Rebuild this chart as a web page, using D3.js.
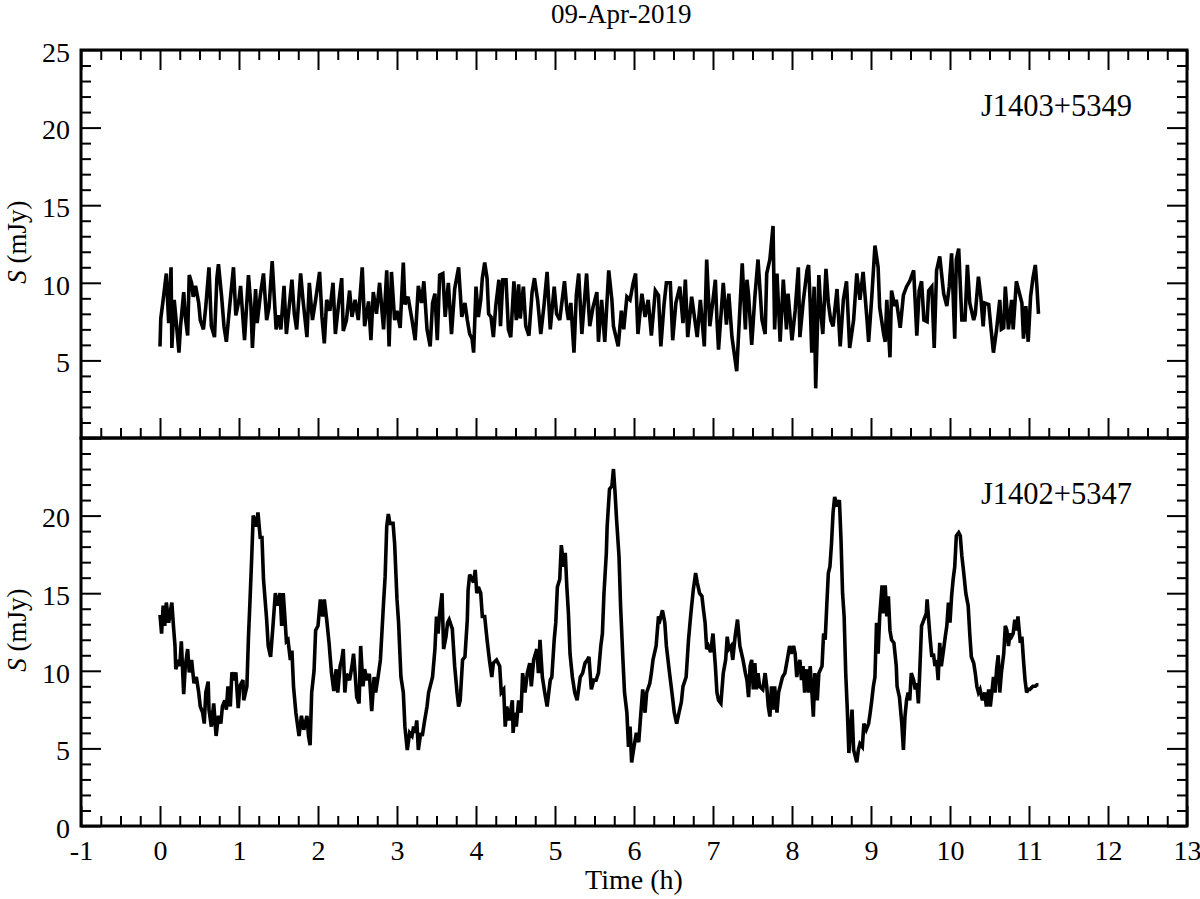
<!DOCTYPE html>
<html><head><meta charset="utf-8">
<script src="https://cdn.jsdelivr.net/npm/d3@7"></script>
<style>
body{margin:0;background:#fff}
svg{display:block}
text{font-family:"Liberation Serif","Times New Roman",serif;fill:#000}
</style>
</head><body>
<svg id="chart" width="1200" height="899"></svg>
<script>
// ---------------- data ----------------
const chartTitle = "09-Apr-2019";
const sourceNames = ["J1403+5349", "J1402+5347"];
const xLabel = "Time (h)";
const xTicks = [-1,0,1,2,3,4,5,6,7,8,9,10,11,12,13];
const topYTicks = [5,10,15,20,25];
const bottomYTicks = [0,5,10,15,20];

// [time (h), flux density (mJy)] — J1403+5349
const topSeries = [
[0.00,5.9],[0.01,7.7],[0.04,8.9],[0.08,10.6],[0.11,7.4],[0.14,11.0],[0.15,5.8],[0.18,8.9],[0.20,7.8],[0.24,5.5],
[0.26,7.2],[0.30,9.4],[0.32,7.8],[0.35,6.6],[0.37,10.5],[0.40,10.0],[0.42,9.1],[0.45,9.8],[0.49,8.7],[0.51,7.6],
[0.55,7.0],[0.58,8.5],[0.62,11.0],[0.65,7.2],[0.69,6.5],[0.72,10.3],[0.74,11.2],[0.78,9.1],[0.81,7.2],[0.84,6.2],
[0.88,8.4],[0.93,11.0],[0.96,7.9],[1.00,8.9],[1.02,9.8],[1.07,6.3],[1.12,10.5],[1.15,8.6],[1.17,5.8],[1.21,9.6],
[1.23,7.4],[1.27,9.2],[1.31,10.6],[1.35,7.6],[1.38,8.4],[1.42,11.4],[1.47,7.0],[1.50,7.9],[1.53,7.0],[1.57,9.8],
[1.60,6.7],[1.64,8.7],[1.67,10.2],[1.70,8.0],[1.73,7.0],[1.78,10.6],[1.81,8.9],[1.86,6.5],[1.89,10.0],[1.93,7.6],
[1.97,8.9],[2.02,10.7],[2.05,7.8],[2.08,6.1],[2.11,8.9],[2.15,8.2],[2.19,10.0],[2.22,6.7],[2.26,8.6],[2.30,10.3],
[2.32,6.9],[2.36,7.6],[2.40,9.5],[2.43,7.8],[2.47,8.9],[2.51,7.6],[2.56,11.0],[2.59,7.2],[2.64,8.8],[2.67,6.3],
[2.70,9.4],[2.74,8.0],[2.78,10.0],[2.83,7.0],[2.87,10.8],[2.90,5.9],[2.93,10.7],[2.97,7.6],[3.00,8.2],[3.04,7.1],
[3.08,11.3],[3.10,8.6],[3.14,9.1],[3.19,7.6],[3.23,6.3],[3.27,9.8],[3.31,8.7],[3.34,10.1],[3.38,7.0],[3.42,5.9],
[3.45,8.7],[3.48,9.3],[3.51,6.3],[3.54,10.5],[3.58,10.6],[3.61,7.8],[3.65,10.0],[3.69,6.7],[3.73,9.6],[3.78,11.0],
[3.82,7.8],[3.86,8.7],[3.89,7.6],[3.92,6.7],[3.95,6.4],[3.97,5.5],[4.00,9.75],[4.03,7.8],[4.06,8.9],[4.08,10.3],
[4.11,11.3],[4.14,10.3],[4.16,8.0],[4.19,7.8],[4.22,6.5],[4.25,8.5],[4.29,10.2],[4.31,7.2],[4.34,10.2],[4.38,10.2],
[4.41,7.0],[4.44,6.5],[4.48,10.1],[4.51,7.6],[4.54,9.9],[4.56,7.7],[4.60,9.75],[4.63,7.2],[4.67,6.6],[4.71,9.4],
[4.74,10.3],[4.78,8.9],[4.82,6.7],[4.86,8.5],[4.90,10.7],[4.94,7.0],[4.99,9.75],[5.02,8.0],[5.06,7.6],[5.12,10.1],
[5.15,8.3],[5.17,7.6],[5.20,8.7],[5.24,5.5],[5.27,9.2],[5.30,10.6],[5.34,6.7],[5.40,10.6],[5.44,7.2],[5.48,8.4],
[5.53,9.4],[5.55,6.2],[5.59,8.9],[5.63,6.2],[5.68,10.8],[5.72,8.9],[5.74,7.2],[5.80,5.9],[5.84,8.2],[5.87,7.0],
[5.91,9.1],[5.95,8.9],[5.99,10.0],[6.02,10.6],[6.05,6.7],[6.10,9.3],[6.14,7.8],[6.18,8.9],[6.22,6.6],[6.27,9.5],
[6.31,9.2],[6.34,5.9],[6.38,8.6],[6.41,10.0],[6.46,10.0],[6.49,6.3],[6.53,8.7],[6.58,9.75],[6.62,7.4],[6.65,10.2],
[6.68,6.5],[6.73,9.1],[6.80,6.5],[6.84,8.9],[6.89,5.9],[6.92,11.5],[6.96,7.2],[7.00,8.9],[7.03,10.2],[7.05,7.6],
[7.07,5.7],[7.13,10.0],[7.17,7.3],[7.20,9.3],[7.24,6.5],[7.30,4.3],[7.37,11.25],[7.41,7.0],[7.43,10.2],[7.45,9.2],
[7.49,6.0],[7.53,9.1],[7.57,11.5],[7.62,7.6],[7.66,6.7],[7.68,10.6],[7.72,11.5],[7.76,13.66],[7.78,7.0],[7.81,10.6],
[7.85,6.2],[7.89,10.2],[7.93,7.0],[7.95,9.3],[8.00,6.3],[8.04,8.2],[8.08,11.0],[8.10,6.5],[8.14,8.7],[8.19,10.8],
[8.21,11.15],[8.23,8.7],[8.25,5.5],[8.28,9.75],[8.30,3.2],[8.34,10.5],[8.37,7.8],[8.39,6.7],[8.43,10.9],[8.46,8.7],
[8.49,7.6],[8.52,7.2],[8.57,9.6],[8.61,5.9],[8.65,8.9],[8.69,10.1],[8.73,5.8],[8.78,7.6],[8.82,10.6],[8.86,8.9],
[8.90,10.7],[8.95,7.6],[8.97,6.2],[9.01,9.1],[9.05,12.4],[9.09,11.0],[9.11,8.4],[9.16,6.7],[9.18,6.2],[9.20,8.9],
[9.24,5.2],[9.26,9.5],[9.30,8.5],[9.32,8.9],[9.37,7.1],[9.41,9.2],[9.45,9.75],[9.49,10.1],[9.54,10.8],[9.58,6.6],
[9.61,9.5],[9.64,10.1],[9.67,7.6],[9.71,7.5],[9.73,9.5],[9.77,9.75],[9.80,5.8],[9.83,10.8],[9.87,11.7],[9.92,9.3],
[9.96,8.5],[9.99,9.75],[10.02,11.9],[10.06,6.4],[10.08,11.5],[10.11,12.2],[10.15,7.6],[10.19,7.6],[10.22,11.15],[10.25,8.7],
[10.30,7.6],[10.32,8.0],[10.36,10.4],[10.39,9.1],[10.42,7.2],[10.44,8.7],[10.49,8.6],[10.52,7.0],[10.55,5.5],[10.59,7.0],
[10.63,8.9],[10.65,7.0],[10.68,7.1],[10.70,9.75],[10.74,7.0],[10.78,8.9],[10.80,7.0],[10.84,10.1],[10.88,9.3],[10.91,8.7],
[10.93,6.4],[10.96,8.5],[10.99,6.2],[11.02,9.1],[11.05,10.3],[11.08,11.15],[11.10,9.75],[11.12,8.0]
];

// [time (h), flux density (mJy)] — J1402+5347
const bottomSeries = [
[0.00,13.6],[0.02,12.4],[0.04,14.2],[0.06,12.9],[0.08,14.4],[0.11,13.1],[0.13,13.8],[0.15,14.4],[0.17,12.9],[0.19,11.6],
[0.20,10.1],[0.23,10.7],[0.25,10.3],[0.27,11.9],[0.30,8.5],[0.32,10.3],[0.35,11.4],[0.37,9.9],[0.40,10.7],[0.43,9.2],
[0.46,9.6],[0.49,8.6],[0.51,7.7],[0.54,7.3],[0.56,6.6],[0.58,8.6],[0.61,9.3],[0.62,7.5],[0.65,6.4],[0.68,7.9],
[0.71,5.8],[0.74,7.1],[0.77,6.6],[0.79,7.7],[0.82,8.1],[0.84,7.5],[0.86,9.0],[0.89,7.7],[0.91,9.9],[0.94,9.4],
[0.96,9.9],[0.99,7.6],[1.01,9.0],[1.05,9.4],[1.06,8.1],[1.10,9.0],[1.12,12.2],[1.14,14.6],[1.16,17.2],[1.18,20.0],
[1.22,19.3],[1.24,20.2],[1.27,18.5],[1.29,18.7],[1.31,15.9],[1.35,13.3],[1.37,11.6],[1.40,10.9],[1.43,12.9],[1.46,15.0],
[1.49,14.2],[1.52,15.0],[1.54,12.9],[1.56,15.0],[1.58,13.5],[1.60,11.9],[1.62,12.0],[1.65,10.7],[1.67,11.3],[1.69,9.0],
[1.72,7.3],[1.76,5.8],[1.79,7.1],[1.82,6.2],[1.86,7.1],[1.88,5.8],[1.90,5.2],[1.92,8.6],[1.95,10.0],[1.97,12.6],
[2.00,12.9],[2.03,14.6],[2.06,13.5],[2.08,14.6],[2.11,13.3],[2.14,11.8],[2.17,9.9],[2.20,8.7],[2.23,10.1],[2.25,8.6],
[2.28,10.3],[2.30,10.7],[2.32,11.4],[2.34,8.6],[2.36,9.8],[2.40,9.4],[2.43,10.3],[2.45,11.1],[2.47,9.8],[2.49,8.3],
[2.52,7.9],[2.54,11.6],[2.57,9.0],[2.59,10.1],[2.62,9.4],[2.65,9.8],[2.68,7.4],[2.71,9.6],[2.73,8.6],[2.76,9.6],
[2.79,10.7],[2.83,14.4],[2.85,16.1],[2.87,19.3],[2.89,20.1],[2.91,19.5],[2.95,19.5],[2.97,18.2],[3.00,14.6],[3.02,13.1],
[3.05,9.6],[3.08,8.6],[3.10,6.4],[3.13,4.9],[3.16,6.0],[3.19,5.8],[3.21,6.4],[3.23,6.0],[3.25,6.8],[3.27,4.9],
[3.30,6.0],[3.32,5.8],[3.35,6.8],[3.38,7.7],[3.40,8.6],[3.42,9.0],[3.45,9.6],[3.48,11.4],[3.50,13.5],[3.52,12.4],
[3.54,13.7],[3.57,15.0],[3.59,11.4],[3.62,12.2],[3.64,13.1],[3.66,13.3],[3.70,12.7],[3.73,10.3],[3.76,8.6],[3.78,7.7],
[3.80,8.1],[3.83,10.7],[3.86,10.9],[3.89,13.3],[3.90,15.2],[3.92,16.2],[3.97,15.7],[3.99,16.5],[4.01,15.0],[4.03,15.4],
[4.06,15.0],[4.08,13.5],[4.11,13.5],[4.14,12.0],[4.17,10.7],[4.20,9.6],[4.22,10.5],[4.26,10.7],[4.30,10.3],[4.32,8.6],
[4.35,8.8],[4.37,6.4],[4.39,7.7],[4.42,6.8],[4.46,8.1],[4.47,6.0],[4.49,7.3],[4.51,6.4],[4.54,8.1],[4.57,7.3],
[4.59,9.85],[4.62,8.6],[4.65,9.85],[4.68,10.5],[4.70,9.0],[4.73,10.7],[4.77,11.4],[4.79,9.85],[4.81,12.0],[4.84,9.6],
[4.87,8.6],[4.90,7.7],[4.94,9.4],[4.96,9.6],[4.99,12.0],[5.01,13.1],[5.03,15.4],[5.06,15.9],[5.08,18.1],[5.11,16.7],
[5.13,17.6],[5.15,15.4],[5.17,13.7],[5.19,11.1],[5.22,9.6],[5.25,8.6],[5.28,8.1],[5.32,9.6],[5.35,9.85],[5.38,10.5],
[5.41,10.7],[5.43,10.9],[5.46,8.8],[5.49,9.4],[5.52,9.4],[5.55,9.85],[5.58,11.6],[5.60,12.4],[5.62,15.0],[5.65,17.6],
[5.66,19.3],[5.69,21.7],[5.72,21.9],[5.74,23.0],[5.76,21.5],[5.78,19.7],[5.81,17.4],[5.83,14.2],[5.86,10.7],[5.88,8.6],
[5.91,7.3],[5.93,5.1],[5.95,6.4],[5.97,4.1],[6.00,5.1],[6.03,6.0],[6.06,5.4],[6.08,6.8],[6.11,8.8],[6.14,7.3],
[6.16,8.6],[6.20,9.2],[6.22,9.85],[6.24,10.7],[6.28,11.6],[6.31,13.5],[6.33,13.3],[6.36,13.9],[6.39,13.1],[6.41,11.6],
[6.45,9.85],[6.48,8.6],[6.51,7.3],[6.54,6.6],[6.57,7.3],[6.60,8.0],[6.62,9.0],[6.66,9.6],[6.69,12.0],[6.72,13.7],
[6.75,15.2],[6.78,16.3],[6.80,15.7],[6.83,15.0],[6.86,14.8],[6.88,13.9],[6.90,13.1],[6.92,11.4],[6.94,11.6],[6.97,11.2],
[7.00,12.4],[7.03,10.3],[7.05,8.6],[7.07,8.1],[7.10,7.9],[7.13,9.85],[7.16,10.7],[7.18,12.2],[7.20,11.4],[7.23,11.6],
[7.25,10.7],[7.28,12.2],[7.31,13.3],[7.34,11.6],[7.38,10.7],[7.41,9.85],[7.43,9.4],[7.45,8.3],[7.47,10.3],[7.49,10.7],
[7.51,8.8],[7.53,10.5],[7.55,8.8],[7.57,9.85],[7.59,9.0],[7.63,8.8],[7.66,9.85],[7.68,9.0],[7.70,7.7],[7.72,7.05],
[7.74,9.0],[7.76,7.5],[7.78,9.0],[7.81,7.3],[7.83,8.6],[7.85,9.0],[7.88,9.6],[7.91,9.85],[7.94,10.7],[7.97,11.6],
[7.99,11.1],[8.02,11.6],[8.04,11.1],[8.06,9.6],[8.08,10.3],[8.10,10.7],[8.12,9.4],[8.14,10.3],[8.16,8.6],[8.19,10.1],
[8.21,8.6],[8.23,10.3],[8.25,8.8],[8.27,7.05],[8.29,9.85],[8.32,8.1],[8.34,9.85],[8.38,10.3],[8.40,12.4],[8.42,12.0],
[8.44,14.2],[8.46,16.3],[8.48,16.7],[8.50,18.2],[8.52,20.2],[8.54,21.2],[8.57,20.6],[8.60,21.0],[8.62,18.5],[8.64,15.0],
[8.66,13.5],[8.68,9.85],[8.70,7.5],[8.72,4.7],[8.76,7.5],[8.78,4.9],[8.80,4.5],[8.82,4.1],[8.84,4.9],[8.86,5.3],
[8.89,5.1],[8.91,6.6],[8.94,6.2],[8.97,6.6],[8.99,7.3],[9.01,8.1],[9.03,9.0],[9.05,9.6],[9.07,13.1],[9.09,11.1],
[9.11,13.5],[9.14,15.5],[9.16,13.7],[9.18,15.5],[9.20,13.5],[9.22,14.8],[9.24,12.6],[9.26,12.0],[9.29,11.8],[9.32,10.3],
[9.33,9.0],[9.36,8.3],[9.39,6.6],[9.41,4.9],[9.43,7.05],[9.45,8.1],[9.47,8.6],[9.49,8.1],[9.51,9.85],[9.54,9.4],
[9.56,8.8],[9.58,9.2],[9.60,7.9],[9.62,10.3],[9.64,12.9],[9.67,13.3],[9.70,13.7],[9.71,14.6],[9.73,13.3],[9.75,12.0],
[9.77,10.9],[9.79,11.1],[9.81,10.3],[9.83,10.7],[9.85,9.4],[9.87,11.8],[9.89,10.3],[9.92,11.4],[9.94,12.2],[9.96,12.9],
[9.98,14.4],[10.00,13.1],[10.02,14.8],[10.04,15.9],[10.06,16.7],[10.08,18.7],[10.11,18.9],[10.13,18.7],[10.15,17.4],[10.17,16.5],
[10.20,15.0],[10.23,14.2],[10.25,12.4],[10.27,10.9],[10.30,10.5],[10.32,9.85],[10.34,9.0],[10.36,8.6],[10.38,8.8],[10.41,8.1],
[10.44,8.6],[10.46,7.7],[10.49,8.8],[10.51,7.7],[10.53,8.6],[10.55,9.6],[10.57,8.6],[10.59,10.1],[10.61,11.0],[10.63,8.6],
[10.65,9.85],[10.68,11.1],[10.70,12.9],[10.72,12.6],[10.74,11.6],[10.76,12.4],[10.78,12.2],[10.80,12.4],[10.82,13.3],[10.84,12.6],
[10.86,13.5],[10.89,11.8],[10.91,12.2],[10.93,10.7],[10.95,9.4],[10.97,8.6],[10.99,8.8],[11.01,8.8],[11.03,8.9],[11.05,9.0],
[11.08,9.0],[11.10,9.1],[11.12,9.1]
];

// ---------------- drawing ----------------
const svg = d3.select("#chart");
const L = 81, R = 1187;
const panels = [
  {top: 50,  bottom: 438, data: topSeries,    name: sourceNames[0], yLabels: topYTicks,    xTop: true,  xLabels: false},
  {top: 438, bottom: 826, data: bottomSeries, name: sourceNames[1], yLabels: bottomYTicks, xTop: false, xLabels: true}
];

const x = d3.scaleLinear().domain([-1, 13]).range([L, R]);
const yMajor = d3.range(0, 26, 5);
const yMinor = d3.range(0, 26, 1).filter(v => v % 5 !== 0);
const xMinor = d3.range(-1, 13.001, 0.25).filter(v => Math.abs(v - Math.round(v)) > 1e-6);

const FONT = '"Liberation Serif","Times New Roman",serif';

function styleAxis(g, labelSize) {
  g.select(".domain").remove();
  g.selectAll(".tick line").attr("stroke", "#000").attr("stroke-width", 2);
  g.selectAll(".tick text").attr("font-family", FONT).attr("font-size", labelSize).attr("fill", "#000");
}

panels.forEach(p => {
  const y = d3.scaleLinear().domain([0, 25]).range([p.bottom, p.top]);
  const g = svg.append("g");

  // data line
  const line = d3.line().x(d => x(d[0])).y(d => y(d[1]));
  g.append("path").datum(p.data)
    .attr("d", line).attr("fill", "none")
    .attr("stroke", "#000").attr("stroke-width", 3.6)
    .attr("stroke-linejoin", "miter").attr("stroke-miterlimit", 3);

  // left y axis
  g.append("g").attr("transform", `translate(${L},0)`)
    .call(d3.axisLeft(y).tickValues(yMajor).tickSize(-20).tickPadding(11)
      .tickFormat(d => p.yLabels.includes(d) ? String(d) : ""))
    .call(a => { styleAxis(a, 28); a.selectAll(".tick text").attr("dy", "0.40em"); });
  g.append("g").attr("transform", `translate(${L},0)`)
    .call(d3.axisLeft(y).tickValues(yMinor).tickSize(-10).tickFormat(""))
    .call(a => styleAxis(a, 28));

  // right y axis (ticks only)
  g.append("g").attr("transform", `translate(${R},0)`)
    .call(d3.axisRight(y).tickValues(yMajor).tickSize(-20).tickFormat(""))
    .call(a => styleAxis(a, 28));
  g.append("g").attr("transform", `translate(${R},0)`)
    .call(d3.axisRight(y).tickValues(yMinor).tickSize(-10).tickFormat(""))
    .call(a => styleAxis(a, 28));

  // bottom x axis
  g.append("g").attr("transform", `translate(0,${p.bottom})`)
    .call(d3.axisBottom(x).tickValues(xTicks).tickSize(-20).tickPadding(14)
      .tickFormat(d => p.xLabels ? String(d) : ""))
    .call(a => styleAxis(a, 28));
  g.append("g").attr("transform", `translate(0,${p.bottom})`)
    .call(d3.axisBottom(x).tickValues(xMinor).tickSize(-10).tickFormat(""))
    .call(a => styleAxis(a, 28));

  // top x axis (ticks only)
  if (p.xTop) {
    g.append("g").attr("transform", `translate(0,${p.top})`)
      .call(d3.axisTop(x).tickValues(xTicks).tickSize(-20).tickFormat(""))
      .call(a => styleAxis(a, 28));
    g.append("g").attr("transform", `translate(0,${p.top})`)
      .call(d3.axisTop(x).tickValues(xMinor).tickSize(-10).tickFormat(""))
      .call(a => styleAxis(a, 28));
  }

  // frame
  g.append("rect").attr("x", L).attr("y", p.top)
    .attr("width", R - L).attr("height", p.bottom - p.top)
    .attr("fill", "none").attr("stroke", "#000").attr("stroke-width", 3);

  // source name
  g.append("text").attr("x", 981).attr("y", p.top + 66)
    .attr("font-size", 30.5).text(p.name);

  // y title
  const yt = g.append("text")
    .attr("transform", `translate(26,${(p.top + p.bottom) / 2 - 2}) rotate(-90)`)
    .attr("text-anchor", "middle").attr("font-size", 27);
  yt.append("tspan").attr("font-style", "italic").text("S");
  yt.append("tspan").text(" (mJy)");
});

// x title
svg.append("text").attr("x", (L + R) / 2).attr("y", 889)
  .attr("text-anchor", "middle").attr("font-size", 28).text(xLabel);

// chart title
svg.append("text").attr("x", 551).attr("y", 23)
  .attr("font-size", 27).text(chartTitle);
</script>
</body></html>
